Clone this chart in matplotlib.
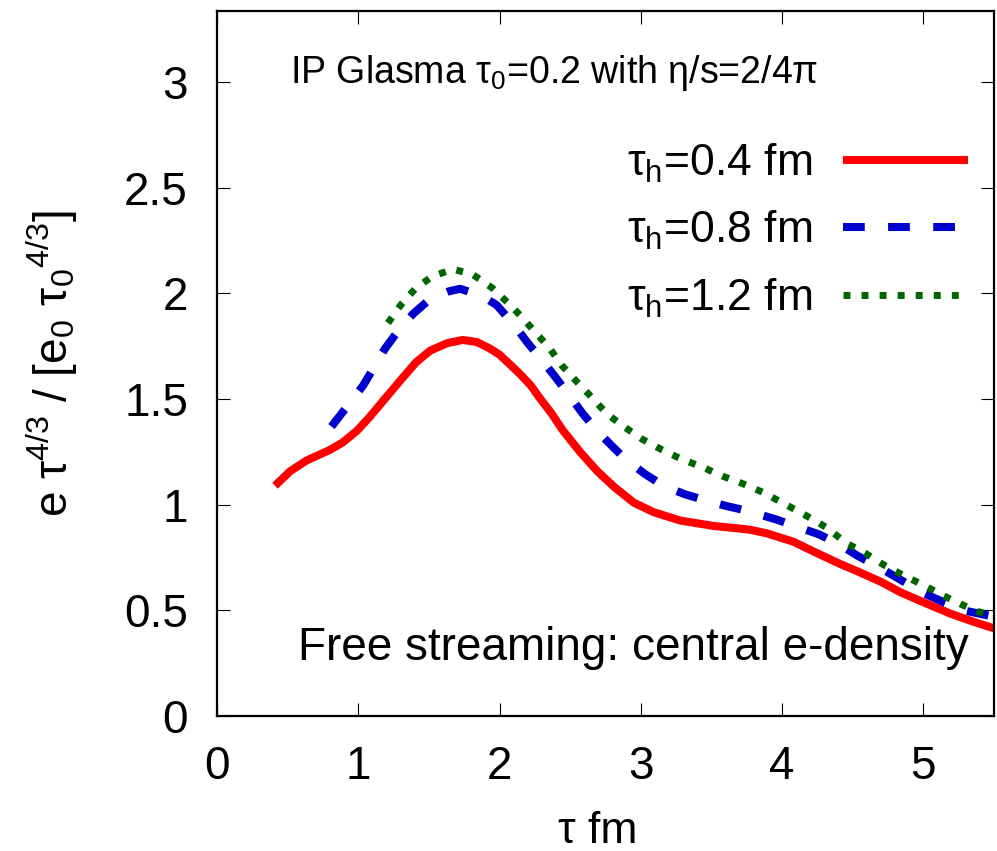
import matplotlib
matplotlib.use("Agg")
import matplotlib.pyplot as plt

plt.rcParams['font.family'] = ['Liberation Sans', 'DejaVu Sans']
plt.rcParams['mathtext.default'] = 'regular'
plt.rcParams['mathtext.fontset'] = 'custom'
plt.rcParams['mathtext.rm'] = 'Liberation Sans'
plt.rcParams['mathtext.it'] = 'Liberation Sans'

# central energy density e*tau^(4/3)
tau_04 = [0.41, 0.52, 0.635, 0.80, 0.89, 0.99, 1.08, 1.18, 1.30, 1.41, 1.51, 1.63,
          1.74, 1.84, 1.93, 2.00, 2.08, 2.15, 2.22, 2.29, 2.37, 2.45, 2.57, 2.69,
          2.81, 2.95, 3.09, 3.28, 3.42, 3.51, 3.66, 3.77, 3.89, 4.08, 4.25, 4.41,
          4.55, 4.70, 4.84, 5.03, 5.19, 5.36, 5.50]
e_04 = [1.09, 1.16, 1.21, 1.26, 1.295, 1.35, 1.415, 1.495, 1.59, 1.675, 1.73, 1.765,
        1.78, 1.77, 1.74, 1.71, 1.66, 1.615, 1.565, 1.50, 1.43, 1.35, 1.25, 1.16,
        1.085, 1.01, 0.965, 0.925, 0.91, 0.90, 0.89, 0.882, 0.865, 0.825, 0.77, 0.72,
        0.68, 0.635, 0.585, 0.53, 0.485, 0.445, 0.415]

tau_08 = [0.81, 0.92, 1.035, 1.19, 1.29, 1.39, 1.51, 1.64, 1.72, 1.87, 1.98, 2.11,
          2.20, 2.30, 2.40, 2.49, 2.59, 2.69, 2.80, 2.90, 3.03, 3.16, 3.31, 3.46,
          3.60, 3.76, 3.96, 4.11, 4.26, 4.40, 4.53, 4.67, 4.80, 4.99, 5.14, 5.285,
          5.50]
e_08 = [1.37, 1.465, 1.565, 1.74, 1.83, 1.905, 1.975, 2.01, 2.022, 1.99, 1.945, 1.845,
        1.765, 1.685, 1.60, 1.52, 1.43, 1.35, 1.275, 1.21, 1.145, 1.09, 1.05, 1.02,
        0.995, 0.97, 0.93, 0.895, 0.86, 0.815, 0.76, 0.71, 0.66, 0.585, 0.54, 0.50,
        0.47]

tau_12 = [1.21, 1.30, 1.40, 1.52, 1.67, 1.81, 1.95, 2.06, 2.17, 2.24, 2.35, 2.44,
          2.55, 2.65, 2.76, 2.88, 3.01, 3.15, 3.29, 3.43, 3.58, 3.72, 3.86, 4.00,
          4.14, 4.32, 4.45, 4.59, 4.72, 4.86, 5.00, 5.14, 5.28, 5.38, 5.50]
e_12 = [1.86, 1.945, 2.02, 2.08, 2.115, 2.09, 2.025, 1.955, 1.88, 1.825, 1.745, 1.66,
        1.58, 1.51, 1.43, 1.37, 1.31, 1.26, 1.215, 1.18, 1.135, 1.10, 1.06, 1.01,
        0.96, 0.89, 0.82, 0.77, 0.715, 0.665, 0.62, 0.57, 0.525, 0.495, 0.475]

labels = ['τ$_h$=0.4 fm', 'τ$_h$=0.8 fm', 'τ$_h$=1.2 fm']
xticks = [0, 1, 2, 3, 4, 5]
yticks = [0, 0.5, 1, 1.5, 2, 2.5, 3]
ytick_labels = ['0', '0.5', '1', '1.5', '2', '2.5', '3']

fig = plt.figure(figsize=(9.97, 8.51), dpi=100)
ax = fig.add_axes([0.2177, 0.1586, 0.7793, 0.828])

ax.plot(tau_04, e_04, color='#ff0000', lw=5.8, solid_capstyle='butt',
        solid_joinstyle='round', label=labels[0])
ax.plot(tau_08, e_08, color='#0000cc', lw=5.8, dashes=(2.7, 2.9), label=labels[1])
ax.plot(tau_12, e_12, color='#006400', lw=5.0, dashes=(1.0, 1.6), label=labels[2])

ax.set_xlim(0, 5.5)
ax.set_ylim(0, 3.335)
ax.set_xticks(xticks)
ax.set_yticks(yticks)
ax.set_yticklabels(ytick_labels)
ax.tick_params(direction='in', length=9.5, width=0.8, labelsize=33, top=True, right=True, pad=21)
for s in ax.spines.values():
    s.set_linewidth(1.6)

ax.set_xlabel('τ fm', fontsize=32)
ax.xaxis.set_label_coords(0.49, -0.135)
ax.set_ylabel('e τ$^{4/3}$ / [e$_0$ τ$_0$$^{4/3}$]', fontsize=33)
ax.yaxis.set_label_coords(-0.176, 0.5)

ax.text(0.094, 0.899, 'IP Glasma τ$_0$=0.2 with η/s=2/4π', transform=ax.transAxes,
        ha='left', va='baseline', fontsize=27)
ax.text(0.967, 0.0794, 'Free streaming: central e-density', transform=ax.transAxes,
        ha='right', va='baseline', fontsize=33)

ax.legend(loc='upper right', bbox_to_anchor=(0.9665, 0.8156), frameon=False, markerfirst=False,
          fontsize=32, handlelength=2.81, handletextpad=0.7, labelspacing=0.55,
          borderaxespad=0, borderpad=0)

fig.savefig('out.png', dpi=100)
